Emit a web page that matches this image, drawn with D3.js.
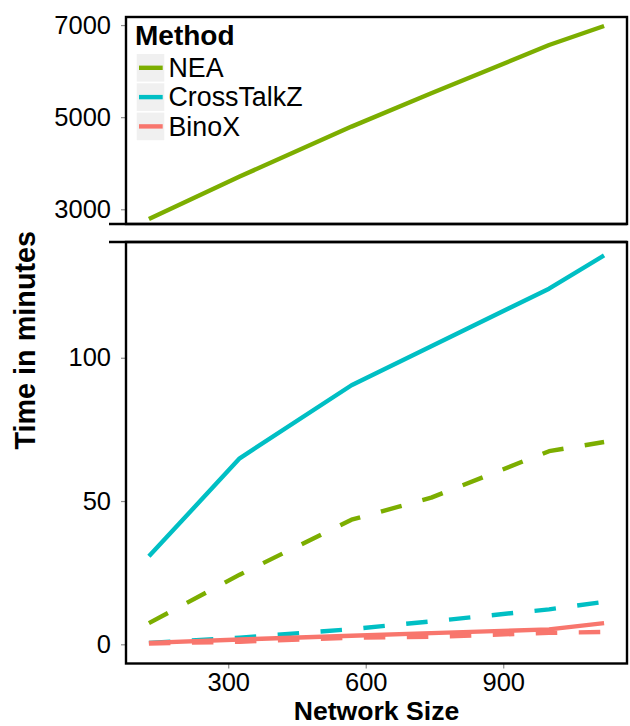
<!DOCTYPE html>
<html>
<head>
<meta charset="utf-8">
<script src="https://cdn.jsdelivr.net/npm/d3@7/dist/d3.min.js"></script>
<style>
  html, body { margin: 0; padding: 0; background: #fff; }
  svg { display: block; font-family: "Liberation Sans", Arial, Helvetica, sans-serif; }
</style>
</head>
<body>
<svg id="chart" width="630" height="726"></svg>
<script>
// Run time of each method against network size.
const networkSizes = [127, 325, 569, 743, 1000, 1120];
const methods = ["NEA", "CrossTalkZ", "BinoX"];
const methodColors = ["#7CAE00", "#00BFC4", "#F8766D"];

// Solid lines
const neaSolid = [2790, 3710, 4795, 5520, 6566, 6980];
const crossTalkZSolid = [30.7, 64.9, 90.4, 104.0, 124.1, 135.7];
const binoxSolid = [0.5, 1.7, 3.0, 3.9, 5.2, 7.4];

// Dashed lines
const neaDashed = [7.4, 24.3, 43.5, 51.2, 67.4, 70.6];
const crossTalkZDashed = [0.5, 2.3, 5.3, 8.0, 12.2, 14.8];
const binoxDashed = [0.3, 0.9, 2.3, 2.6, 4.0, 4.3];

const xTicks = [300, 600, 900];
const upperTicks = [3000, 5000, 7000];
const lowerTicks = [0, 50, 100];

// Axis limits for the broken y axis
const xLimits = [77, 1170];
const upperLimits = [2680, 7175];
const lowerLimits = [-6.7, 140.4];
const breakAt = 1000; // series above this value belong to the upper panel

const series = [
  { method: "NEA", dashed: false, values: neaSolid },
  { method: "NEA", dashed: true, values: neaDashed },
  { method: "CrossTalkZ", dashed: false, values: crossTalkZSolid },
  { method: "CrossTalkZ", dashed: true, values: crossTalkZDashed },
  { method: "BinoX", dashed: false, values: binoxSolid },
  { method: "BinoX", dashed: true, values: binoxDashed }
];

const svg = d3.select("#chart");
const left = 126, right = 627;
const upper = { top: 17, bottom: 224 };
const lower = { top: 242, bottom: 663.5 };

const x = d3.scaleLinear().domain(xLimits).range([left, right]);
const yUpper = d3.scaleLinear().domain(upperLimits).range([upper.bottom, upper.top]);
const yLower = d3.scaleLinear().domain(lowerLimits).range([lower.bottom, lower.top]);
const color = d3.scaleOrdinal().domain(methods).range(methodColors);

const fontSize = 25.5;

// Clip paths for each panel
const defs = svg.append("defs");
defs.append("clipPath").attr("id", "clipUpper").append("rect")
  .attr("x", left).attr("y", upper.top).attr("width", right - left).attr("height", upper.bottom - upper.top);
defs.append("clipPath").attr("id", "clipLower").append("rect")
  .attr("x", left).attr("y", lower.top).attr("width", right - left).attr("height", lower.bottom - lower.top);

// Lines
series.forEach(s => {
  const inUpper = d3.max(s.values) > breakAt;
  const y = inUpper ? yUpper : yLower;
  const line = d3.line().x((d, i) => x(networkSizes[i])).y(d => y(d));
  svg.append("path")
    .attr("clip-path", inUpper ? "url(#clipUpper)" : "url(#clipLower)")
    .attr("d", line(s.values))
    .attr("fill", "none")
    .attr("stroke", color(s.method))
    .attr("stroke-width", 4.4)
    .attr("stroke-dasharray", s.dashed ? "21.5,21.5" : null)
    .attr("stroke-linejoin", "round");
});

// Axes
function styleAxis(g) {
  g.select(".domain").remove();
  g.selectAll(".tick line").attr("stroke", "#8c8c8c").attr("stroke-width", 1.2);
  g.selectAll(".tick text").attr("fill", "#000").attr("font-size", fontSize);
}

svg.append("g")
  .attr("transform", `translate(${left},0)`)
  .call(d3.axisLeft(yUpper).tickValues(upperTicks).tickSize(5).tickPadding(10).tickFormat(d3.format("d")))
  .call(styleAxis)
  .attr("font-family", null);

svg.append("g")
  .attr("transform", `translate(${left},0)`)
  .call(d3.axisLeft(yLower).tickValues(lowerTicks).tickSize(5).tickPadding(10).tickFormat(d3.format("d")))
  .call(styleAxis)
  .attr("font-family", null);

svg.append("g")
  .attr("transform", `translate(0,${lower.bottom})`)
  .call(d3.axisBottom(x).tickValues(xTicks).tickSize(5).tickPadding(4).tickFormat(d3.format("d")))
  .call(styleAxis)
  .attr("font-family", null);

// Panel borders
const border = svg.append("g").attr("fill", "none").attr("stroke", "#000").attr("stroke-width", 2.4);
border.append("rect").attr("x", left).attr("y", upper.top)
  .attr("width", right - left).attr("height", upper.bottom - upper.top);
border.append("rect").attr("x", left).attr("y", lower.top)
  .attr("width", right - left).attr("height", lower.bottom - lower.top);
// Axis break marks
border.append("line").attr("x1", 109).attr("x2", right).attr("y1", upper.bottom).attr("y2", upper.bottom);
border.append("line").attr("x1", 109).attr("x2", right).attr("y1", lower.top).attr("y2", lower.top);

// Axis titles
svg.append("text")
  .attr("transform", `translate(35,${(upper.top + lower.bottom) / 2}) rotate(-90)`)
  .attr("text-anchor", "middle")
  .attr("font-weight", "bold")
  .attr("font-size", 28.8)
  .text("Time in minutes");

svg.append("text")
  .attr("x", (left + right) / 2)
  .attr("y", 720.3)
  .attr("text-anchor", "middle")
  .attr("font-weight", "bold")
  .attr("font-size", 26.6)
  .text("Network Size");

// Legend
const legend = svg.append("g").attr("transform", "translate(135,0)");
legend.append("text")
  .attr("x", 0).attr("y", 45)
  .attr("font-weight", "bold")
  .attr("font-size", 28)
  .text("Method");

methods.forEach((m, i) => {
  const top = 54 + i * 29.3;
  const row = legend.append("g").attr("transform", `translate(0,${top})`);
  row.append("rect").attr("x", 1.7).attr("y", 0).attr("width", 27.6).attr("height", 27.6).attr("fill", "#f0f0f0");
  row.append("line").attr("x1", 4).attr("x2", 27.7).attr("y1", 13.8).attr("y2", 13.8)
    .attr("stroke", color(m)).attr("stroke-width", 4.4);
  row.append("text").attr("x", 33.5).attr("y", 23).attr("font-size", 26.8).text(m);
});
</script>
</body>
</html>
